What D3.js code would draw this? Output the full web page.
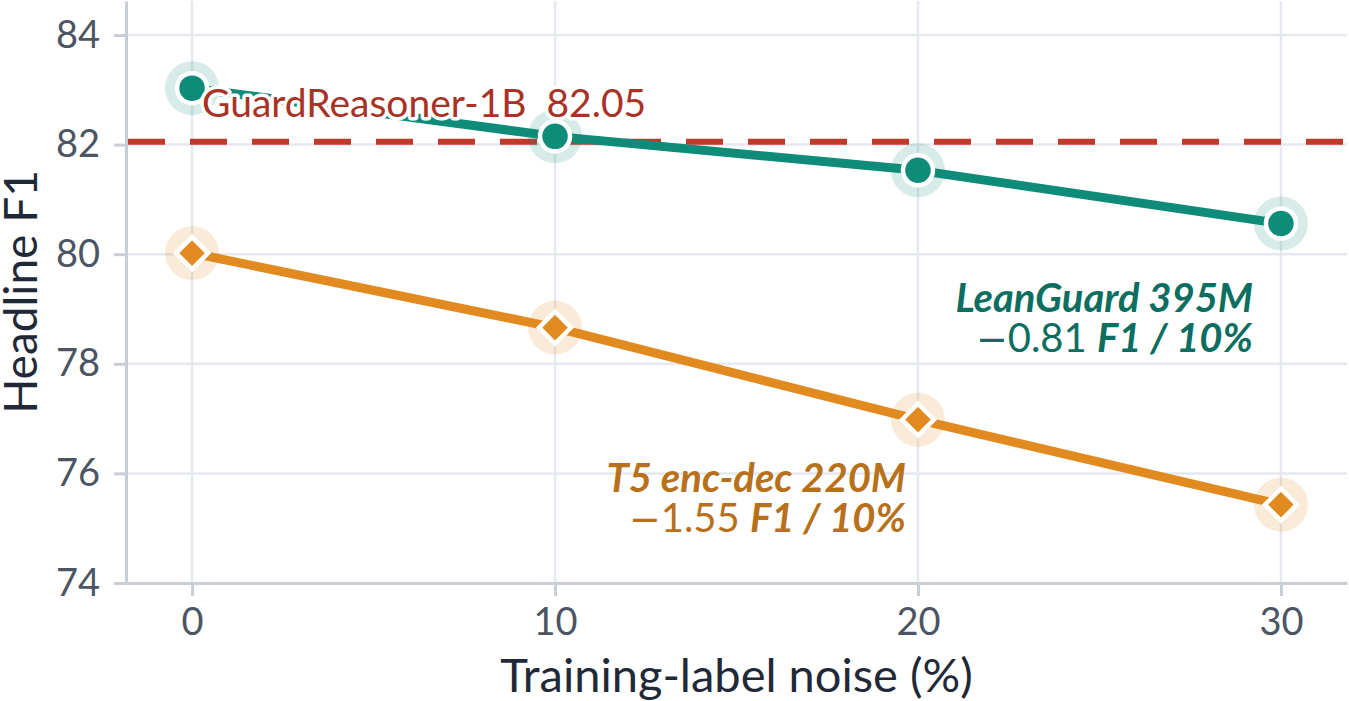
<!DOCTYPE html>
<html><head><meta charset="utf-8">
<script src="https://cdn.jsdelivr.net/npm/d3@7"></script>
<style>
html,body{margin:0;padding:0;background:#fff;}
svg{display:block;font-family:Lato,"Noto Sans",sans-serif;}
</style></head>
<body><svg id="c" width="1349" height="701"></svg>
<script>
const noise = [0, 10, 20, 30];
const leanGuard = [83.03, 82.15, 81.53, 80.56];
const t5 = [80.02, 78.66, 76.98, 75.43];
const yTicks = [74, 76, 78, 80, 82, 84];
const xTicks = [0, 10, 20, 30];
const baselineValue = 82.05;
const baselineLabel = "GuardReasoner-1B  82.05";

const W = 1349, H = 701;
const m = {left:126, right:2, top:1, bottom:118};
const svg = d3.select("#c");
const x = d3.scaleLinear().domain([-1.82, 31.82]).range([m.left, W - m.right]);
const y = d3.scaleLinear().domain([74, 84.62]).range([H - m.bottom, m.top]);

const teal = "#0f8c79", tealText = "#0c6e60";
const orange = "#e08a1f", orangeText = "#b8701a";
const red = "#c0392b";

// grid
const g = svg.append("g");
g.selectAll(".gy").data(yTicks).join("line")
  .attr("x1", m.left).attr("x2", W - m.right)
  .attr("y1", d => y(d)).attr("y2", d => y(d))
  .attr("stroke", "#e5e8ee").attr("stroke-width", 2.5);
g.selectAll(".gx").data(xTicks).join("line")
  .attr("x1", d => x(d)).attr("x2", d => x(d))
  .attr("y1", m.top).attr("y2", H - m.bottom)
  .attr("stroke", "#e5e8ee").attr("stroke-width", 2.5);

// axes
const xAxis = svg.append("g").attr("transform", `translate(0,${H - m.bottom})`)
  .call(d3.axisBottom(x).tickValues(xTicks).tickSize(13).tickSizeOuter(0).tickPadding(12));
const yAxis = svg.append("g").attr("transform", `translate(${m.left},0)`)
  .call(d3.axisLeft(y).tickValues(yTicks).tickSize(12).tickSizeOuter(0).tickPadding(14));
[xAxis, yAxis].forEach(a => {
  a.select(".domain").attr("stroke", "#c9cdd6").attr("stroke-width", 3);
  a.selectAll(".tick line").attr("stroke", "#c9cdd6").attr("stroke-width", 3);
  a.selectAll(".tick text").attr("fill", "#4b5563").attr("font-size", 38)
    .attr("font-family", "Lato");
});

// baseline
svg.append("line")
  .attr("x1", m.left + 2).attr("x2", W)
  .attr("y1", y(baselineValue)).attr("y2", y(baselineValue))
  .attr("stroke", red).attr("stroke-width", 6).attr("stroke-dasharray", "37 25");

// lines
const line = d3.line().x((d, i) => x(noise[i])).y(d => y(d));
svg.append("path").datum(t5).attr("d", line).attr("fill", "none")
  .attr("stroke", orange).attr("stroke-width", 9).attr("stroke-linejoin", "round");
svg.append("path").datum(leanGuard).attr("d", line).attr("fill", "none")
  .attr("stroke", teal).attr("stroke-width", 9).attr("stroke-linejoin", "round");

// markers
svg.selectAll(".h1").data(leanGuard).join("circle")
  .attr("cx", (d, i) => x(noise[i])).attr("cy", d => y(d)).attr("r", 27)
  .attr("fill", teal).attr("fill-opacity", 0.17);
svg.selectAll(".m1").data(leanGuard).join("circle")
  .attr("cx", (d, i) => x(noise[i])).attr("cy", d => y(d)).attr("r", 15)
  .attr("fill", teal).attr("stroke", "#fff").attr("stroke-width", 4.5);

svg.selectAll(".h2").data(t5).join("circle")
  .attr("cx", (d, i) => x(noise[i])).attr("cy", d => y(d)).attr("r", 27)
  .attr("fill", orange).attr("fill-opacity", 0.17);
const diamond = d3.symbol().type(d3.symbolDiamond2).size(650);
svg.selectAll(".m2").data(t5).join("path")
  .attr("transform", (d, i) => `translate(${x(noise[i])},${y(d)})`)
  .attr("d", diamond)
  .attr("fill", orange).attr("stroke", "#fff").attr("stroke-width", 4.5).attr("stroke-linejoin", "miter");

// baseline label (with white halo)
svg.append("text").attr("x", 202).attr("y", 117)
  .attr("fill", "#a93226").attr("font-size", 39)
  .attr("stroke", "#fff").attr("stroke-width", 7).attr("paint-order", "stroke")
  .attr("stroke-linejoin", "round")
  .style("white-space", "pre").text(baselineLabel);

// annotations
function annot(xp, yp, name, slope, color) {
  const t1 = svg.append("text").attr("x", xp).attr("y", yp).attr("text-anchor", "end")
    .attr("fill", color).attr("font-size", 40)
    .attr("font-weight", 700).attr("font-style", "italic").text(name);
  const t2 = svg.append("text").attr("x", xp).attr("y", yp + 40).attr("text-anchor", "end")
    .attr("fill", color).attr("font-size", 40).style("white-space", "pre");
  t2.append("tspan").attr("font-family", "DejaVu Sans").attr("font-size", 38).text("\u2212");
  t2.append("tspan").text(slope + " ");
  t2.append("tspan").attr("font-weight", 700).attr("font-style", "italic").text("F1 / 10%");
}
annot(1253, 312, "LeanGuard 395M", "0.81", tealText);
annot(906, 492, "T5 enc-dec 220M", "1.55", orangeText);

// axis titles
svg.append("text").attr("x", (m.left + W - m.right) / 2).attr("y", 692)
  .attr("text-anchor", "middle").attr("fill", "#1f2937").attr("font-size", 47)
  .text("Training-label noise (%)");
svg.append("text").attr("transform", `translate(37,${(m.top + H - m.bottom) / 2}) rotate(-90)`)
  .attr("text-anchor", "middle").attr("fill", "#1f2937").attr("font-size", 46)
  .text("Headline F1");
</script></body></html>
